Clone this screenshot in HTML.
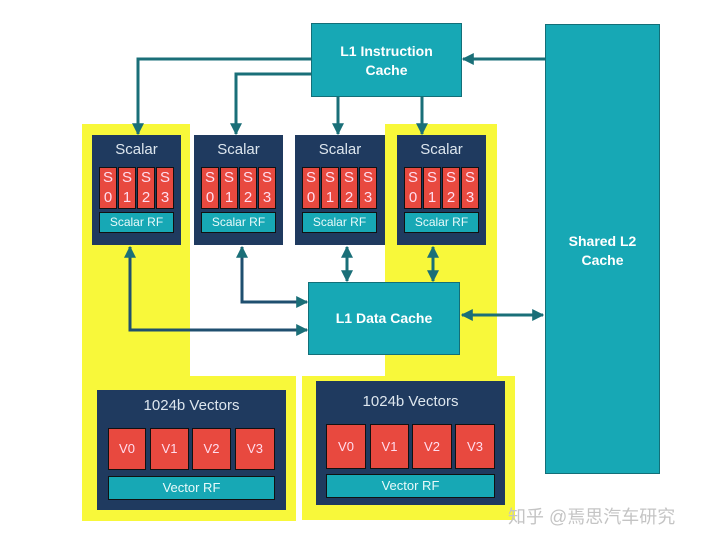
<!DOCTYPE html>
<html><head><meta charset="utf-8"><style>
body{margin:0;width:720px;height:543px;background:#fff;overflow:hidden;position:relative;font-family:"Liberation Sans","Noto Sans CJK SC",sans-serif}
div{position:absolute;box-sizing:border-box}
.y{background:#f8f83a}
.nb{background:#1f3a5f}
.t{background:#17a8b5;color:#fff;font-weight:bold;text-align:center;font-size:14px;border:1px solid #136f78}
.r{background:#e8493f;color:#fde;font-size:15px;text-align:center;line-height:20px;border:1px solid #111}
.lbl{color:#dde6ee;font-size:15px;text-align:center;width:100%}
.rf{background:#17a8b5;color:#e8fafa;font-size:12px;text-align:center;border:1px solid #111}
</style></head><body>
<div class="y" style="left:82px;top:124px;width:108px;height:397px"></div>
<div class="y" style="left:82px;top:376px;width:214px;height:145px"></div>
<div class="y" style="left:385px;top:124px;width:112px;height:260px"></div>
<div class="y" style="left:302px;top:376px;width:213px;height:144px"></div>

<div class="t" style="left:311px;top:23px;width:151px;height:74px;padding-top:18px;line-height:19px">L1 Instruction<br>Cache</div>
<div class="t" style="left:308px;top:282px;width:152px;height:73px;line-height:71px">L1 Data Cache</div>
<div class="t" style="left:545px;top:24px;width:115px;height:450px;padding-top:207px;line-height:19px">Shared L2<br>Cache</div>

<div class="nb" style="left:92px;top:135px;width:89px;height:110px"><div class="lbl" style="top:6px">Scalar</div>
<div class="r" style="left:7px;top:32px;width:18px;height:42px">S<br>0</div><div class="r" style="left:26px;top:32px;width:18px;height:42px">S<br>1</div><div class="r" style="left:45px;top:32px;width:18px;height:42px">S<br>2</div><div class="r" style="left:64px;top:32px;width:18px;height:42px">S<br>3</div>
<div class="rf" style="left:7px;top:77px;width:75px;height:21px;line-height:19px">Scalar RF</div></div>
<div class="nb" style="left:194px;top:135px;width:89px;height:110px"><div class="lbl" style="top:6px">Scalar</div>
<div class="r" style="left:7px;top:32px;width:18px;height:42px">S<br>0</div><div class="r" style="left:26px;top:32px;width:18px;height:42px">S<br>1</div><div class="r" style="left:45px;top:32px;width:18px;height:42px">S<br>2</div><div class="r" style="left:64px;top:32px;width:18px;height:42px">S<br>3</div>
<div class="rf" style="left:7px;top:77px;width:75px;height:21px;line-height:19px">Scalar RF</div></div>
<div class="nb" style="left:295px;top:135px;width:90px;height:110px"><div class="lbl" style="top:6px">Scalar</div>
<div class="r" style="left:7px;top:32px;width:18px;height:42px">S<br>0</div><div class="r" style="left:26px;top:32px;width:18px;height:42px">S<br>1</div><div class="r" style="left:45px;top:32px;width:18px;height:42px">S<br>2</div><div class="r" style="left:64px;top:32px;width:18px;height:42px">S<br>3</div>
<div class="rf" style="left:7px;top:77px;width:75px;height:21px;line-height:19px">Scalar RF</div></div>
<div class="nb" style="left:397px;top:135px;width:89px;height:110px"><div class="lbl" style="top:6px">Scalar</div>
<div class="r" style="left:7px;top:32px;width:18px;height:42px">S<br>0</div><div class="r" style="left:26px;top:32px;width:18px;height:42px">S<br>1</div><div class="r" style="left:45px;top:32px;width:18px;height:42px">S<br>2</div><div class="r" style="left:64px;top:32px;width:18px;height:42px">S<br>3</div>
<div class="rf" style="left:7px;top:77px;width:75px;height:21px;line-height:19px">Scalar RF</div></div>

<div class="nb" style="left:97px;top:390px;width:189px;height:120px"><div class="lbl" style="top:7px;font-size:15px">1024b Vectors</div>
<div class="r" style="left:11px;top:38px;width:38px;height:42px;line-height:40px;font-size:13px">V0</div><div class="r" style="left:53px;top:38px;width:39px;height:42px;line-height:40px;font-size:13px">V1</div><div class="r" style="left:95px;top:38px;width:39px;height:42px;line-height:40px;font-size:13px">V2</div><div class="r" style="left:138px;top:38px;width:40px;height:42px;line-height:40px;font-size:13px">V3</div>
<div class="rf" style="left:11px;top:86px;width:167px;height:24px;line-height:22px;font-size:13px">Vector RF</div></div>
<div class="nb" style="left:316px;top:381px;width:189px;height:124px"><div class="lbl" style="top:12px;font-size:15px">1024b Vectors</div>
<div class="r" style="left:10px;top:43px;width:40px;height:45px;line-height:43px;font-size:13px">V0</div><div class="r" style="left:54px;top:43px;width:39px;height:45px;line-height:43px;font-size:13px">V1</div><div class="r" style="left:96px;top:43px;width:40px;height:45px;line-height:43px;font-size:13px">V2</div><div class="r" style="left:139px;top:43px;width:40px;height:45px;line-height:43px;font-size:13px">V3</div>
<div class="rf" style="left:10px;top:93px;width:169px;height:24px;line-height:22px;font-size:13px">Vector RF</div></div>

<svg width="720" height="543" style="position:absolute;left:0;top:0">
<defs><marker id="a" viewBox="0 0 10 10" refX="9" refY="5" markerWidth="4" markerHeight="4" orient="auto-start-reverse"><path d="M0,0L10,5L0,10z" fill="#1a6f78"/></marker></defs>
<g stroke="#1a6f78" stroke-width="3" fill="none">
<path d="M311,59H138V134" marker-end="url(#a)"/>
<path d="M311,74H236V134" marker-end="url(#a)"/>
<path d="M338,97V134" marker-end="url(#a)"/>
<path d="M422,97V134" marker-end="url(#a)"/>
<path d="M545,59H463" marker-end="url(#a)"/>
<path d="M130,247V330H307" marker-start="url(#a)" marker-end="url(#a)" stroke="#1f4f6f"/>
<path d="M242,247V302H307" marker-start="url(#a)" marker-end="url(#a)" stroke="#1f4f6f"/>
<path d="M347,247V281" marker-start="url(#a)" marker-end="url(#a)"/>
<path d="M433,247V281" marker-start="url(#a)" marker-end="url(#a)"/>
<path d="M462,315H543" marker-start="url(#a)" marker-end="url(#a)"/>
</g></svg>
<div style="left:508px;top:503px;color:#c4c4c4;font-size:18px;white-space:nowrap">知乎 @焉思汽车研究</div>
</body></html>
